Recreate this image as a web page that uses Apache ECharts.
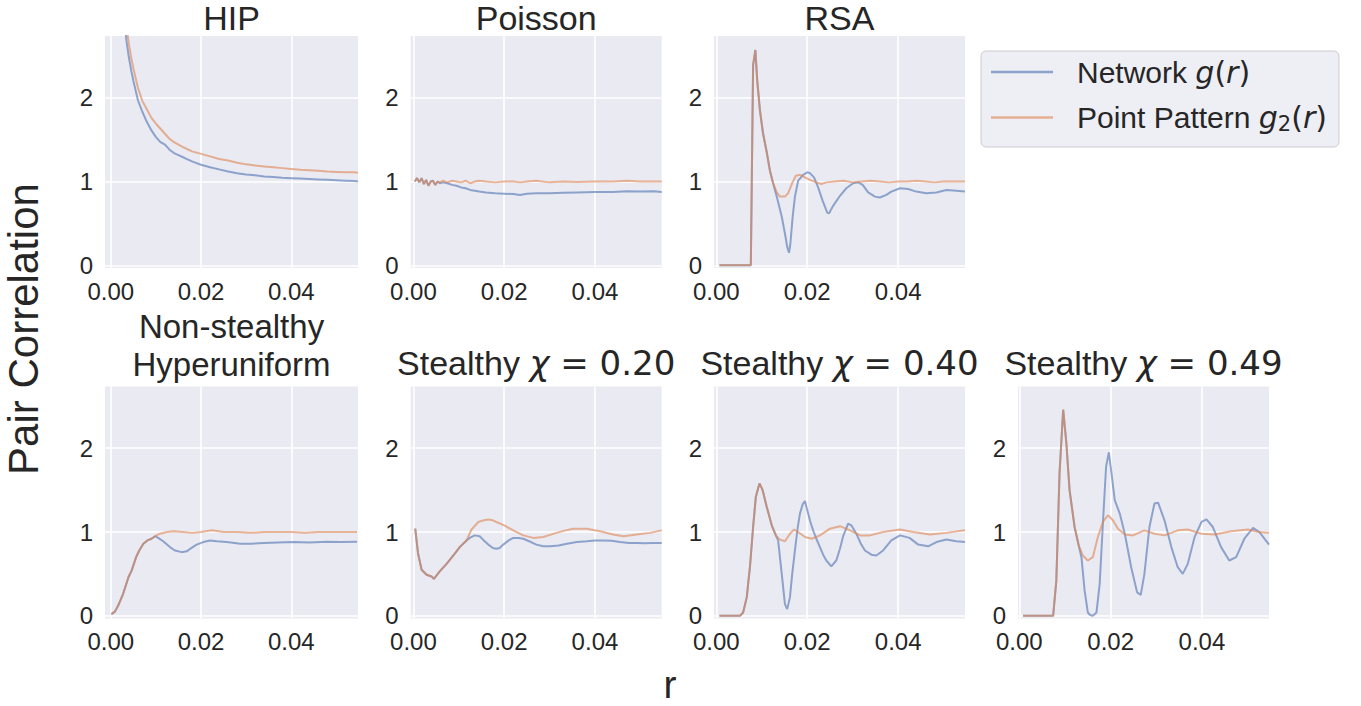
<!DOCTYPE html>
<html>
<head>
<meta charset="utf-8">
<script src="https://cdn.jsdelivr.net/npm/echarts@6/dist/echarts.min.js"></script>
<style>
html,body{margin:0;padding:0;background:#ffffff;}
#chart{width:1361px;height:706px;}
</style>
</head>
<body>
<div id="chart"></div>
<script>
// ---------------- DATA ----------------
const seriesNames = ['Network g(r)', 'Point Pattern g2(r)'];
const xTickValues = [0, 0.02, 0.04];
const yTickValues = [0, 1, 2];
const panelTitles = ['HIP', 'Poisson', 'RSA', 'Non-stealthy\nHyperuniform',
  'Stealthy χ = 0.20', 'Stealthy χ = 0.40', 'Stealthy χ = 0.49'];
const xAxisTitle = 'r';
const yAxisTitle = 'Pair Correlation';

// HIP
const hipR = [0.0025,0.003,0.0035,0.004,0.0045,0.005,0.006,0.007,0.008,0.009,0.010,0.011,0.012,0.013,0.014,0.015,0.016,0.017,0.018,0.019,0.020,0.022,0.024,0.026,0.028,0.030,0.032,0.034,0.036,0.038,0.040,0.042,0.044,0.046,0.048,0.050,0.052,0.054,0.0548];
const hipNetwork = [3.3,2.92,2.66,2.48,2.33,2.2,1.97,1.83,1.71,1.61,1.53,1.47,1.44,1.38,1.34,1.315,1.29,1.265,1.24,1.22,1.2,1.17,1.145,1.12,1.1,1.085,1.075,1.06,1.055,1.045,1.04,1.035,1.03,1.025,1.02,1.015,1.01,1.005,1.0];
const hipPoint = [3.5,3.12,2.84,2.64,2.48,2.35,2.12,1.96,1.86,1.76,1.69,1.63,1.57,1.51,1.47,1.44,1.41,1.385,1.36,1.345,1.33,1.3,1.27,1.25,1.225,1.205,1.19,1.18,1.17,1.16,1.15,1.14,1.135,1.13,1.12,1.115,1.11,1.11,1.105];

// Poisson
const poissonR = [0.0003,0.0008,0.0013,0.0018,0.0023,0.0028,0.0033,0.0038,0.0043,0.0048,0.0053,0.0058,0.0065,0.0075,0.0085,0.0095,0.0105,0.0115,0.0125,0.0135,0.0145,0.016,0.018,0.020,0.022,0.0235,0.025,0.027,0.030,0.033,0.036,0.040,0.044,0.047,0.050,0.053,0.0547];
const poissonNetwork = [1.0,1.04,0.99,1.04,0.97,1.02,0.95,1.0,1.01,0.96,1.0,0.98,0.99,0.98,0.96,0.95,0.93,0.92,0.9,0.89,0.88,0.87,0.86,0.855,0.85,0.84,0.855,0.86,0.86,0.865,0.87,0.875,0.875,0.885,0.88,0.885,0.875];
const poissonPoint = [1.0,1.04,0.99,1.04,0.97,1.02,0.95,1.0,1.01,0.96,1.0,0.99,1.01,0.99,1.01,1.0,0.99,1.01,0.98,1.0,1.01,1.0,0.99,1.0,1.0,0.99,1.0,1.01,0.99,1.0,0.995,1.0,1.0,1.01,1.0,1.0,1.0];

// RSA
const rsaNetworkR = [0.0007,0.0076,0.0081,0.0086,0.009,0.0096,0.0103,0.0111,0.0118,0.0125,0.0133,0.0144,0.0151,0.0156,0.016,0.0163,0.0168,0.0173,0.018,0.0191,0.02,0.0206,0.0215,0.0224,0.0234,0.0244,0.0248,0.0257,0.0272,0.0286,0.0301,0.0312,0.0322,0.0334,0.0349,0.036,0.0374,0.0385,0.0404,0.0422,0.044,0.0462,0.0484,0.0506,0.0528,0.0547];
const rsaNetwork = [0,0,2.39,2.57,2.21,1.85,1.57,1.35,1.13,0.98,0.82,0.58,0.38,0.22,0.15,0.26,0.58,0.82,1.01,1.08,1.11,1.1,1.05,0.93,0.77,0.63,0.62,0.71,0.83,0.92,0.98,0.99,0.96,0.87,0.82,0.81,0.84,0.88,0.92,0.91,0.88,0.86,0.87,0.9,0.89,0.88];
const rsaPointR = [0.0007,0.0076,0.0081,0.0086,0.009,0.0096,0.0103,0.0111,0.0118,0.0125,0.0133,0.014,0.0151,0.0158,0.0166,0.0175,0.0184,0.0195,0.0206,0.022,0.0231,0.0242,0.026,0.028,0.03,0.032,0.034,0.036,0.038,0.04,0.042,0.044,0.046,0.048,0.05,0.052,0.0547];
const rsaPoint = [0,0,2.39,2.57,2.21,1.85,1.57,1.35,1.13,0.98,0.87,0.82,0.82,0.86,0.97,1.07,1.08,1.05,1.02,0.99,0.97,0.99,1.0,1.01,0.99,1.0,1.01,1.0,0.99,1.0,1.0,1.01,1.0,0.99,1.0,1.0,1.0];

// Non-stealthy hyperuniform
const nshNetworkR = [0.0001,0.0009,0.0016,0.0027,0.0039,0.0046,0.0056,0.0063,0.0072,0.0081,0.009,0.0098,0.0105,0.0116,0.0131,0.0142,0.0157,0.0168,0.0179,0.019,0.0205,0.022,0.0235,0.0257,0.0287,0.0309,0.0339,0.037,0.0405,0.044,0.0479,0.051,0.0546];
const nshNetwork = [0.02,0.05,0.12,0.26,0.46,0.54,0.7,0.78,0.86,0.9,0.92,0.95,0.93,0.89,0.82,0.78,0.76,0.77,0.81,0.85,0.88,0.9,0.89,0.88,0.86,0.86,0.87,0.875,0.88,0.875,0.885,0.88,0.885];
const nshPointR = [0.0001,0.0009,0.0016,0.0027,0.0039,0.0046,0.0056,0.0063,0.0072,0.0081,0.009,0.0098,0.0109,0.0124,0.0139,0.016,0.018,0.02,0.0224,0.025,0.028,0.031,0.034,0.037,0.04,0.043,0.046,0.049,0.052,0.0546];
const nshPoint = [0.02,0.05,0.12,0.26,0.46,0.54,0.7,0.78,0.86,0.9,0.92,0.95,0.98,1.0,1.01,1.0,0.99,1.0,1.02,1.0,1.0,0.99,1.0,1.0,1.0,0.99,1.0,1.0,1.0,1.0];

// Stealthy chi = 0.20
const s20NetworkR = [0.0004,0.001,0.0018,0.0029,0.004,0.0045,0.0058,0.0073,0.0088,0.0102,0.0117,0.0124,0.0135,0.0146,0.0155,0.0165,0.0175,0.0183,0.019,0.0198,0.021,0.022,0.0232,0.0242,0.0255,0.0271,0.0286,0.0301,0.032,0.0338,0.036,0.0382,0.04,0.0418,0.0437,0.0455,0.0475,0.0492,0.051,0.0528,0.0547];
const s20Network = [1.04,0.75,0.55,0.49,0.47,0.44,0.53,0.62,0.72,0.82,0.9,0.93,0.96,0.95,0.9,0.85,0.81,0.8,0.81,0.85,0.9,0.93,0.93,0.92,0.89,0.85,0.83,0.83,0.84,0.86,0.88,0.89,0.9,0.9,0.895,0.88,0.87,0.87,0.865,0.87,0.87];
const s20PointR = [0.0004,0.001,0.0018,0.0029,0.004,0.0045,0.0058,0.0073,0.0088,0.0102,0.0117,0.0128,0.0143,0.0155,0.0165,0.0175,0.0183,0.02,0.022,0.0242,0.0264,0.0286,0.0315,0.0335,0.0352,0.0382,0.0411,0.044,0.0463,0.0492,0.0521,0.0547];
const s20Point = [1.04,0.75,0.55,0.49,0.47,0.44,0.53,0.62,0.72,0.82,0.9,1.03,1.12,1.14,1.15,1.14,1.12,1.08,1.02,0.96,0.93,0.94,0.99,1.02,1.04,1.04,1.01,0.97,0.95,0.97,0.99,1.02];

// Stealthy chi = 0.40
const s40NetworkR = [0.0007,0.0052,0.0059,0.0067,0.0074,0.0081,0.0087,0.0095,0.0102,0.0111,0.0122,0.0131,0.0136,0.0144,0.0151,0.0156,0.0162,0.0167,0.0173,0.0179,0.0184,0.019,0.0195,0.0202,0.0207,0.0213,0.022,0.0228,0.0235,0.0242,0.0253,0.0264,0.0272,0.0279,0.029,0.0297,0.0308,0.0318,0.0327,0.0341,0.0352,0.0367,0.0385,0.0404,0.0425,0.0444,0.0466,0.0484,0.0506,0.0528,0.0547];
const s40Network = [0,0,0.04,0.22,0.58,1.06,1.42,1.58,1.5,1.3,1.08,0.96,0.9,0.5,0.14,0.08,0.22,0.5,0.78,1.05,1.22,1.33,1.37,1.22,1.12,1.02,0.92,0.82,0.73,0.66,0.59,0.66,0.8,0.95,1.1,1.08,0.98,0.86,0.78,0.73,0.72,0.78,0.9,0.96,0.93,0.85,0.83,0.88,0.91,0.89,0.88];
const s40PointR = [0.0007,0.0052,0.0059,0.0067,0.0074,0.0081,0.0087,0.0095,0.0102,0.0111,0.0122,0.0131,0.014,0.0151,0.0162,0.0171,0.018,0.0195,0.021,0.0228,0.025,0.0272,0.0294,0.0316,0.0338,0.0367,0.0404,0.0433,0.047,0.0506,0.0547];
const s40Point = [0,0,0.04,0.22,0.58,1.06,1.42,1.58,1.5,1.3,1.08,0.96,0.91,0.89,0.98,1.03,1.0,0.94,0.92,0.96,1.04,1.07,1.02,0.96,0.96,1.0,1.03,1.0,0.97,0.99,1.02];

// Stealthy chi = 0.49
const s49NetworkR = [0.0008,0.0074,0.0081,0.0088,0.0096,0.0103,0.011,0.0121,0.013,0.0136,0.0143,0.015,0.0155,0.0161,0.0169,0.0176,0.0183,0.019,0.0196,0.0201,0.0209,0.022,0.0231,0.0245,0.0258,0.0266,0.0274,0.0285,0.0296,0.0304,0.0318,0.0333,0.0347,0.0358,0.0369,0.0384,0.0399,0.041,0.0424,0.0442,0.046,0.0475,0.0493,0.0512,0.0526,0.0547];
const s49Network = [0,0,0.42,1.7,2.46,2.06,1.5,1.06,0.84,0.7,0.3,0.04,0.01,0.0,0.04,0.38,1.1,1.78,1.95,1.74,1.38,1.22,0.98,0.58,0.28,0.25,0.5,1.06,1.34,1.35,1.14,0.82,0.58,0.5,0.62,0.94,1.12,1.15,1.06,0.82,0.66,0.7,0.92,1.05,1.0,0.85];
const s49PointR = [0.0008,0.0074,0.0081,0.0088,0.0096,0.0103,0.011,0.0121,0.013,0.0139,0.015,0.0161,0.0172,0.0183,0.0194,0.0205,0.0216,0.0231,0.0249,0.0274,0.0296,0.0318,0.0347,0.0369,0.0399,0.0428,0.0464,0.0501,0.0523,0.0547];
const s49Point = [0,0,0.42,1.7,2.46,2.06,1.5,1.06,0.84,0.72,0.66,0.7,0.94,1.12,1.2,1.14,1.04,0.97,0.96,1.02,0.98,0.96,1.02,1.03,0.98,0.97,1.01,1.03,1.0,0.99];

// ---------------- LAYOUT / STYLE ----------------
const SANS = "'Liberation Sans', Arial, sans-serif";
const MATH = "'DejaVu Sans', sans-serif";
const TEXT = '#262626';
const BLUE = 'rgba(76,114,176,0.6)';
const ORANGE = 'rgba(221,132,82,0.6)';
const BG = '#EAEAF2';
const Y_MIN = -0.032, Y_MAX = 2.737;

const panels = [
  {left:105,   top:36,  width:253, xMin:-0.0013, xMax:0.0548, net:[hipR, hipNetwork],          pt:[hipR, hipPoint]},
  {left:410.7, top:36,  width:251, xMin:-0.0006, xMax:0.0547, net:[poissonR, poissonNetwork],  pt:[poissonR, poissonPoint]},
  {left:714,   top:36,  width:251, xMin:-0.0005, xMax:0.0547, net:[rsaNetworkR, rsaNetwork],   pt:[rsaPointR, rsaPoint]},
  {left:105,   top:386.5, width:253, xMin:-0.0013, xMax:0.0548, net:[nshNetworkR, nshNetwork], pt:[nshPointR, nshPoint]},
  {left:410.7, top:386.5, width:251, xMin:-0.0006, xMax:0.0547, net:[s20NetworkR, s20Network], pt:[s20PointR, s20Point]},
  {left:714,   top:386.5, width:251, xMin:-0.0005, xMax:0.0547, net:[s40NetworkR, s40Network], pt:[s40PointR, s40Point]},
  {left:1018,  top:386.5, width:251, xMin:-0.0003, xMax:0.0547, net:[s49NetworkR, s49Network], pt:[s49PointR, s49Point]}
];
const PANEL_H = 232;

function zip(rs, gs) { return rs.map((r, i) => [r, gs[i]]); }

const grids = panels.map(p => ({
  left: p.left, top: p.top, width: p.width, height: PANEL_H,
  show: true, backgroundColor: BG, borderWidth: 0, containLabel: false
}));

const xAxes = panels.map((p, i) => ({
  type: 'value', gridIndex: i, min: p.xMin, max: p.xMax,
  axisLine: {show: false},
  axisTick: {show: false, customValues: xTickValues},
  axisLabel: {customValues: xTickValues, formatter: v => v.toFixed(2),
    fontFamily: SANS, fontSize: 24, color: TEXT, margin: 11},
  splitLine: {show: true, lineStyle: {color: '#ffffff', width: 1.6}}
}));

const yAxes = panels.map((p, i) => ({
  type: 'value', gridIndex: i, min: Y_MIN, max: Y_MAX,
  axisLine: {show: false},
  axisTick: {show: false, customValues: yTickValues},
  axisLabel: {customValues: yTickValues, formatter: v => String(v),
    fontFamily: SANS, fontSize: 24, color: TEXT, margin: 12},
  splitLine: {show: true, lineStyle: {color: '#ffffff', width: 1.6}}
}));

const series = [];
panels.forEach((p, i) => {
  series.push({
    name: seriesNames[0], type: 'line', xAxisIndex: i, yAxisIndex: i,
    data: zip(p.net[0], p.net[1]), showSymbol: false, symbol: 'none',
    lineStyle: {width: 2, color: BLUE}, itemStyle: {color: BLUE},
    emphasis: {disabled: true}, z: 2, clip: true
  });
  series.push({
    name: seriesNames[1], type: 'line', xAxisIndex: i, yAxisIndex: i,
    data: zip(p.pt[0], p.pt[1]), showSymbol: false, symbol: 'none',
    lineStyle: {width: 2, color: ORANGE}, itemStyle: {color: ORANGE},
    emphasis: {disabled: true}, z: 3, clip: true
  });
});

const mathTitleRich = {
  c: {fontFamily: MATH, fontStyle: 'italic', fontSize: 34, lineHeight: 30, fill: TEXT},
  d: {fontFamily: MATH, fontSize: 34, lineHeight: 30, fill: TEXT}
};
function titleText(x, y, text, size) {
  const fs = size || 34;
  return {type: 'text', x: x, y: y, silent: true,
    style: {text: text, fill: TEXT, fontFamily: SANS, fontSize: fs, lineHeight: 30,
      textAlign: 'center', textVerticalAlign: 'middle', verticalAlign: 'middle',
      rich: mathTitleRich}};
}
function stealthTitle(t) {
  const parts = t.split('χ');
  return parts[0] + '{c|χ}{d|' + parts[1] + '}';
}
const nsLines = panelTitles[3].split('\n');
const centers = panels.map(p => p.left + p.width / 2);

const graphics = [
  titleText(centers[0], 18, panelTitles[0]),
  titleText(centers[1], 18, panelTitles[1]),
  titleText(centers[2], 18, panelTitles[2]),
  titleText(centers[3], 326, nsLines[0], 33),
  titleText(centers[3], 364, nsLines[1], 33),
  titleText(centers[4], 363, stealthTitle(panelTitles[4])),
  titleText(centers[5], 363, stealthTitle(panelTitles[5])),
  titleText(centers[6], 363, stealthTitle(panelTitles[6])),
  {type: 'text', x: 670, y: 684, silent: true,
    style: {text: xAxisTitle, fill: TEXT, fontFamily: SANS, fontSize: 39,
      textAlign: 'center', textVerticalAlign: 'middle', verticalAlign: 'middle'}},
  {type: 'text', x: 23, y: 329, rotation: Math.PI / 2, silent: true,
    style: {text: yAxisTitle, fill: TEXT, fontFamily: SANS, fontSize: 42,
      textAlign: 'center', textVerticalAlign: 'middle', verticalAlign: 'middle'}}
];

const legendRich = {
  t: {fontFamily: SANS, fontSize: 30, lineHeight: 34, color: TEXT},
  m: {fontFamily: MATH, fontStyle: 'italic', fontSize: 30, lineHeight: 34, color: TEXT},
  p: {fontFamily: MATH, fontSize: 30, lineHeight: 34, color: TEXT},
  s: {fontFamily: MATH, fontSize: 21, lineHeight: 34, color: TEXT, padding: [12, 0, 0, 0]}
};
function legendLabel(name) {
  if (name === seriesNames[0]) return '{t|Network }{m|g}{p|(}{m|r}{p|)}';
  return '{t|Point Pattern }{m|g}{s|2}{p|(}{m|r}{p|)}';
}

const option = {
  animation: false,
  backgroundColor: '#ffffff',
  grid: grids,
  xAxis: xAxes,
  yAxis: yAxes,
  series: series,
  graphic: graphics,
  legend: {
    data: seriesNames,
    orient: 'vertical',
    left: 981, top: 51,
    icon: 'rect', itemWidth: 62, itemHeight: 2.5, itemGap: 14,
    padding: [6, 12, 13, 10],
    backgroundColor: 'rgba(234,234,242,0.8)',
    borderColor: '#cccccc', borderWidth: 1, borderRadius: 5,
    formatter: legendLabel,
    textStyle: {color: TEXT, fontFamily: SANS, fontSize: 30, padding: [0, 0, 0, 19], rich: legendRich}
  }
};

const chart = echarts.init(document.getElementById('chart'), null, {renderer: 'svg', width: 1361, height: 706});
chart.setOption(option);
</script>
</body>
</html>
